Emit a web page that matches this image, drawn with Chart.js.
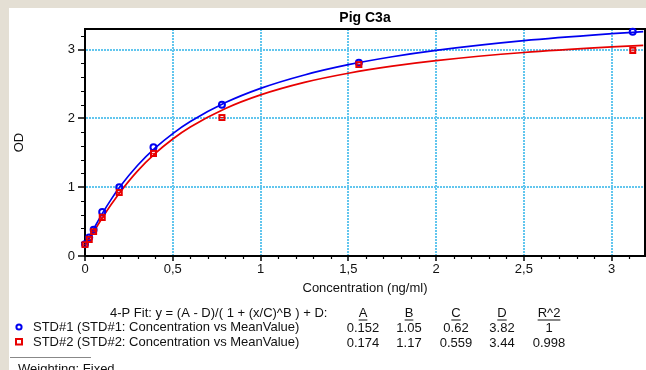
<!DOCTYPE html>
<html>
<head>
<meta charset="utf-8">
<script src="https://cdn.jsdelivr.net/npm/chart.js@4.4.1/dist/chart.umd.min.js"></script>
<style>
  html, body { margin: 0; padding: 0; background: #e4dfd4; overflow: hidden; }
  #wrap { position: absolute; left: 0; top: 0; width: 646px; height: 370px; }
  canvas { display: block; }
</style>
</head>
<body>
<div id="wrap"><canvas id="c" width="646" height="370"></canvas></div>
<script>
// ---- data ----
const chartTitle = 'Pig C3a';
const xAxisTitle = 'Concentration (ng/ml)';
const yAxisTitle = 'OD';

const concentrations = [0, 0.024, 0.049, 0.098, 0.195, 0.39, 0.78, 1.56, 3.12];
const std1OD = [0.17, 0.27, 0.38, 0.64, 1.00, 1.58, 2.20, 2.81, 3.26];
const std2OD = [0.17, 0.25, 0.36, 0.57, 0.93, 1.50, 2.02, 2.79, 3.00];

// fitted curves
const fitX   = [0, 0.025, 0.05, 0.1, 0.15, 0.2, 0.3, 0.4, 0.5, 0.6, 0.8, 1.0, 1.25, 1.5, 1.75, 2.0, 2.5, 3.0, 3.18];
const fit1OD = [0.152, 0.274, 0.396, 0.623, 0.827, 1.009, 1.319, 1.571, 1.780, 1.954, 2.230, 2.437, 2.632, 2.781, 2.897, 2.990, 3.131, 3.232, 3.262];
const fit2OD = [0.174, 0.258, 0.357, 0.559, 0.751, 0.928, 1.237, 1.491, 1.701, 1.875, 2.144, 2.342, 2.524, 2.657, 2.760, 2.840, 2.958, 3.039, 3.062];

const xTicks = [0, 0.5, 1, 1.5, 2, 2.5, 3];
const yTicks = [0, 1, 2, 3];

const fitFormula = '4-P Fit: y = (A - D)/( 1 + (x/C)^B ) + D:';
const paramNames = ['A', 'B', 'C', 'D', 'R^2'];
const seriesNames = ['STD#1 (STD#1: Concentration vs MeanValue)', 'STD#2 (STD#2: Concentration vs MeanValue)'];
const std1Params = ['0.152', '1.05', '0.62', '3.82', '1'];
const std2Params = ['0.174', '1.17', '0.559', '3.44', '0.998'];
const weightingNote = 'Weighting: Fixed';

// ---- styles ----
const FONT = "'Liberation Sans', Arial, sans-serif";
const BLUE = '#0000f0';
const RED = '#e80000';
const GRID = '#62c6ee';

Chart.defaults.font.family = FONT;
Chart.defaults.color = '#111';

function squareMarker(color) {
  const c = document.createElement('canvas');
  c.width = 9; c.height = 8;
  const g = c.getContext('2d');
  g.fillStyle = color;
  g.fillRect(1, 1, 7, 2);
  g.fillRect(1, 6, 7, 2);
  g.fillRect(1, 1, 2, 7);
  g.fillRect(6, 1, 2, 7);
  g.fillRect(3, 4, 3, 1);
  return c;
}

const decor = {
  id: 'decor',
  beforeDraw(chart) {
    const ctx = chart.ctx;
    ctx.save();
    ctx.fillStyle = '#e4dfd4';
    ctx.fillRect(0, 0, chart.width, chart.height);
    ctx.fillStyle = '#ffffff';
    ctx.fillRect(9, 8, chart.width - 9, chart.height - 8);
    ctx.restore();
  },
  beforeDatasetsDraw(chart) {
    const ctx = chart.ctx;
    const a = chart.chartArea;
    const xs = chart.scales.x, ys = chart.scales.y;
    ctx.save();
    ctx.strokeStyle = '#000';
    ctx.lineWidth = 2;
    ctx.strokeRect(a.left, a.top, a.right - a.left, a.bottom - a.top);
    // minor ticks
    ctx.lineWidth = 1.2;
    ctx.beginPath();
    for (let i = 1; i <= 31; i++) {
      if (i % 5 === 0) continue;
      const px = Math.round(xs.getPixelForValue(i / 10)) + 0.5;
      if (px > a.right) continue;
      ctx.moveTo(px, a.bottom);
      ctx.lineTo(px, a.bottom + 3);
    }
    for (let i = 1; i <= 16; i++) {
      if (i % 5 === 0) continue;
      const py = Math.round(ys.getPixelForValue(i / 5)) + 0.5;
      if (py < a.top) continue;
      ctx.moveTo(a.left, py);
      ctx.lineTo(a.left - 4, py);
    }
    ctx.stroke();
    ctx.restore();
  },
  afterDraw(chart) {
    const ctx = chart.ctx;
    const a = chart.chartArea;
    ctx.save();
    ctx.fillStyle = '#000';
    ctx.textBaseline = 'middle';
    // title
    ctx.font = 'bold 14px ' + FONT;
    ctx.textAlign = 'center';
    ctx.fillText(chartTitle, (a.left + a.right) / 2, 18);

    ctx.font = '13px ' + FONT;
    ctx.fillStyle = '#111';
    ctx.textAlign = 'left';
    ctx.fillText(fitFormula, 110, 313);

    const cols = [363, 409, 456, 502, 549];
    ctx.textAlign = 'center';
    paramNames.forEach((p, i) => {
      ctx.fillText(p, cols[i], 313);
      const w = ctx.measureText(p).width;
      ctx.fillRect(cols[i] - w / 2, 319.5, w, 1);
    });
    std1Params.forEach((p, i) => ctx.fillText(p, cols[i], 328));
    std2Params.forEach((p, i) => ctx.fillText(p, cols[i], 343));

    ctx.textAlign = 'left';
    ctx.fillText(seriesNames[0], 33, 327.5);
    ctx.fillText(seriesNames[1], 33, 342.5);

    // legend markers
    ctx.lineWidth = 2;
    ctx.strokeStyle = BLUE;
    ctx.beginPath();
    ctx.arc(19, 327, 2.6, 0, Math.PI * 2);
    ctx.stroke();
    ctx.strokeStyle = RED;
    ctx.strokeRect(16, 339, 6, 5.5);

    // separator and weighting note
    ctx.fillStyle = '#888';
    ctx.fillRect(10, 357, 81, 1);
    ctx.fillStyle = '#111';
    ctx.fillText(weightingNote, 18, 369);
    ctx.restore();
  }
};

const ctx = document.getElementById('c').getContext('2d');
new Chart(ctx, {
  type: 'scatter',
  data: {
    datasets: [
      {
        label: 'STD#2 points',
        data: concentrations.map((x, i) => ({ x, y: std2OD[i] })),
        pointStyle: squareMarker(RED),
        pointRadius: 4,
        showLine: false,
        clip: false,
        order: 0
      },
      {
        label: 'STD#1 points',
        data: concentrations.map((x, i) => ({ x, y: std1OD[i] })),
        pointStyle: 'circle',
        pointRadius: 3,
        pointBorderWidth: 2,
        pointBorderColor: BLUE,
        pointBackgroundColor: 'rgba(255,255,255,0)',
        showLine: false,
        clip: false,
        order: 1
      },
      {
        label: 'STD#1 fit',
        data: fitX.map((x, i) => ({ x, y: fit1OD[i] })),
        showLine: true,
        pointRadius: 0,
        borderColor: BLUE,
        borderWidth: 1.7,
        cubicInterpolationMode: 'monotone',
        order: 2
      },
      {
        label: 'STD#2 fit',
        data: fitX.map((x, i) => ({ x, y: fit2OD[i] })),
        showLine: true,
        pointRadius: 0,
        borderColor: RED,
        borderWidth: 1.7,
        cubicInterpolationMode: 'monotone',
        order: 3
      }
    ]
  },
  options: {
    responsive: false,
    animation: false,
    devicePixelRatio: 1,
    layout: { autoPadding: false, padding: { left: 0, top: 29, right: 1, bottom: 70 } },
    plugins: { legend: { display: false }, tooltip: { enabled: false }, title: { display: false } },
    scales: {
      x: {
        type: 'linear',
        min: 0,
        max: 3.19,
        afterFit: s => { s.height = 44; s.paddingLeft = 0; s.paddingRight = 0; },
        afterBuildTicks: s => { s.ticks = xTicks.map(v => ({ value: v })); },
        ticks: {
          includeBounds: false,
          padding: 1,
          font: { size: 13 },
          color: '#111',
          maxRotation: 0,
          callback: v => String(v).replace('.', ',')
        },
        grid: {
          color: GRID,
          lineWidth: 2,
          tickColor: '#000',
          tickWidth: 1.5,
          tickLength: 5,
          tickBorderDash: []
        },
        border: { display: true, color: '#000', width: 2, dash: [2, 1] },
        title: {
          display: true,
          text: xAxisTitle,
          font: { size: 13 },
          color: '#111',
          padding: { top: 0, bottom: 4 }
        }
      },
      y: {
        type: 'linear',
        min: 0,
        max: 3.3,
        afterFit: s => { s.width = 85; s.paddingTop = 0; s.paddingBottom = 0; },
        afterBuildTicks: s => { s.ticks = yTicks.map(v => ({ value: v })); },
        ticks: {
          includeBounds: false,
          padding: 3,
          font: { size: 13 },
          color: '#111'
        },
        grid: {
          color: GRID,
          lineWidth: 2,
          tickColor: '#000',
          tickWidth: 1.5,
          tickLength: 7,
          tickBorderDash: []
        },
        border: { display: true, color: '#000', width: 2, dash: [2, 1] },
        title: {
          display: true,
          text: yAxisTitle,
          font: { size: 13 },
          color: '#111',
          padding: { top: 12, bottom: 0 }
        }
      }
    }
  },
  plugins: [decor]
});
</script>
</body>
</html>
